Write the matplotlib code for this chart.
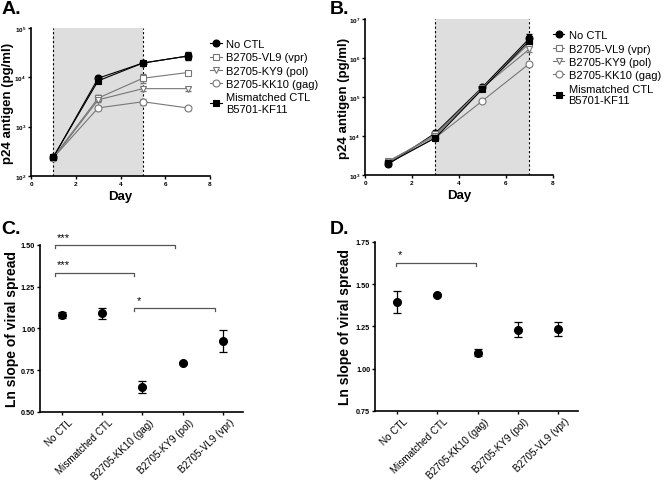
import numpy as np
import matplotlib
matplotlib.use("Agg")
import matplotlib.pyplot as plt
import matplotlib.transforms as mtransforms
from matplotlib.ticker import LogLocator, NullLocator, FormatStrFormatter

plt.rcParams['font.family'] = ['Liberation Sans', 'DejaVu Sans']

# ---- data ----
days = [1, 3, 5, 7]
series_names = ["No CTL", "B2705-VL9 (vpr)", "B2705-KY9 (pol)", "B2705-KK10 (gag)",
                "Mismatched CTL\nB5701-KF11"]

# panel A (pg/ml)
a_noctl = [240, 9600, 19500, 27000]
a_vpr = [240, 3800, 9600, 12500]
a_pol = [230, 3500, 5900, 5900]
a_gag = [235, 2400, 3200, 2400]
a_mism = [245, 8500, 19500, 27000]
a_err = [[20, 1200, 1500, 4000], [20, 600, 2000, 1200], [20, 900, 600, 500],
         [20, 200, 500, 200], [20, 800, 1500, 5000]]

# panel B (pg/ml)
b_noctl = [1900, 12000, 180000, 3.2e6]
b_vpr = [2200, 11000, 170000, 2.4e6]
b_pol = [2300, 10000, 175000, 1.7e6]
b_gag = [2100, 9000, 80000, 7.2e5]
b_mism = [2000, 9000, 160000, 2.8e6]
b_err = [[150, 800, 15000, 9e5], [150, 800, 15000, 4e5], [150, 800, 15000, 3e5],
         [150, 600, 6000, 9e4], [150, 600, 15000, 6e5]]

groups = ["No CTL", "Mismatched CTL", "B2705-KK10 (gag)", "B2705-KY9 (pol)", "B2705-VL9 (vpr)"]
c_mean = [1.08, 1.09, 0.65, 0.795, 0.925]
c_err = [0.02, 0.035, 0.035, 0.005, 0.065]
d_mean = [1.395, 1.435, 1.095, 1.23, 1.235]
d_err = [0.065, 0.005, 0.02, 0.045, 0.04]

# brackets: (start, end, y, label)
c_brackets = [(-0.18, 2.8, 1.50, "***"), (-0.18, 1.8, 1.335, "***"), (1.8, 3.8, 1.125, "*")]
d_brackets = [(-0.04, 1.96, 1.628, "*")]

styles = [
    dict(marker='o', color='black', mfc='black', mec='black'),
    dict(marker='s', color='#777777', mfc='white', mec='#777777'),
    dict(marker='v', color='#777777', mfc='white', mec='#777777'),
    dict(marker='o', color='#777777', mfc='white', mec='#777777'),
    dict(marker='s', color='black', mfc='black', mec='black'),
]

fig = plt.figure(figsize=(6.64, 4.81), dpi=100)

axA = fig.add_axes([0.0467, 0.632, 0.2696, 0.3077])
axB = fig.add_axes([0.5497, 0.6341, 0.2831, 0.3243])
axC = fig.add_axes([0.0602, 0.1414, 0.3057, 0.3472])
axD = fig.add_axes([0.5648, 0.1435, 0.3057, 0.3514])


def style_axes(ax, size):
    for s in ['top', 'right']:
        ax.spines[s].set_visible(False)
    for s in ['left', 'bottom']:
        ax.spines[s].set_linewidth(1.2)
    ax.tick_params(direction='out', length=2.5, width=1, labelsize=size, pad=1)
    for lab in ax.get_xticklabels() + ax.get_yticklabels():
        lab.set_fontweight('bold')


def growth_panel(ax, data, errs, span, ylim, ylab_x):
    ax.axvspan(span[0], span[1], color='#dedede', zorder=0, lw=0)
    for v in span:
        ax.axvline(v, color='black', ls=(0, (2, 2)), lw=0.8, zorder=1)
    handles = []
    for y, e, st, name in zip(data, errs, styles, series_names):
        ax.errorbar(days, y, yerr=e, color=st['color'], lw=0.8, capsize=2.5,
                    elinewidth=0.8, fmt='none', zorder=2)
        h, = ax.plot(days, y, marker=st['marker'], color=st['color'], mfc=st['mfc'],
                     mec=st['mec'], ms=5, lw=0.8, mew=0.8, label=name, zorder=3)
        handles.append(h)
    ax.set_yscale('log')
    ax.set_ylim(*ylim)
    ax.set_xlim(0, 8)
    ax.set_xticks([0, 2, 4, 6, 8])
    ax.yaxis.set_major_locator(LogLocator(base=10, numticks=10))
    ax.yaxis.set_minor_locator(NullLocator())
    ax.set_xlabel("Day", fontsize=9.5, fontweight='bold', labelpad=3)
    ax.set_ylabel("p24 antigen (pg/ml)", fontsize=9.5, fontweight='bold')
    ax.yaxis.set_label_coords(ylab_x, 0.5)
    style_axes(ax, 4.6)
    ax.legend(handles=handles, loc='upper left', bbox_to_anchor=(0.965, 0.97),
              frameon=False, fontsize=8, handlelength=1.0, handletextpad=0.4,
              labelspacing=0.3, borderaxespad=0.2)


growth_panel(axA, [a_noctl, a_vpr, a_pol, a_gag, a_mism], a_err, (1, 5), (1e2, 1e5), -0.093)
growth_panel(axB, [b_noctl, b_vpr, b_pol, b_gag, b_mism], b_err, (3, 7), (1e3, 1e7), -0.082)


def slope_panel(ax, means, errs, ylim, yt, brackets, ylab_x):
    x = np.arange(len(groups))
    ax.errorbar(x, means, yerr=errs, fmt='o', color='black', ms=5.5, capsize=3,
                elinewidth=0.9, capthick=0.9)
    for x0, x1, yb, lab in brackets:
        ax.plot([x0, x0, x1, x1], [yb - 0.02, yb, yb, yb - 0.02], color='#555555',
                lw=0.9, clip_on=False)
        ax.text(x0 + 0.05, yb + 0.018, lab, fontsize=8, ha='left', va='bottom')
    ax.set_xlim(-0.55, 4.5)
    ax.set_ylim(*ylim)
    ax.set_yticks(yt)
    ax.yaxis.set_major_formatter(FormatStrFormatter('%.2f'))
    ax.set_xticks(x)
    ax.set_xticklabels(groups, rotation=44, ha='right', va='top', rotation_mode='anchor')
    ax.set_ylabel("Ln slope of viral spread", fontsize=10, fontweight='bold')
    ax.yaxis.set_label_coords(ylab_x, 0.5)
    style_axes(ax, 5.2)
    shift = mtransforms.ScaledTranslation(6 / 100, 0, fig.dpi_scale_trans)
    for lab in ax.get_xticklabels():
        lab.set_fontsize(7.1)
        lab.set_fontweight('normal')
        lab.set_transform(lab.get_transform() + shift)


slope_panel(axC, c_mean, c_err, (0.5, 1.5), [0.5, 0.75, 1.0, 1.25, 1.5], c_brackets, -0.103)
slope_panel(axD, d_mean, d_err, (0.75, 1.75), [0.75, 1.0, 1.25, 1.5, 1.75], d_brackets, -0.113)

for lab, xy in [("A.", (0.003, 0.998)), ("B.", (0.497, 0.998)),
                ("C.", (0.002, 0.54)), ("D.", (0.497, 0.54))]:
    fig.text(xy[0], xy[1], lab, fontsize=14, fontweight='bold', ha='left', va='top')

fig.savefig("out.png", dpi=100)
